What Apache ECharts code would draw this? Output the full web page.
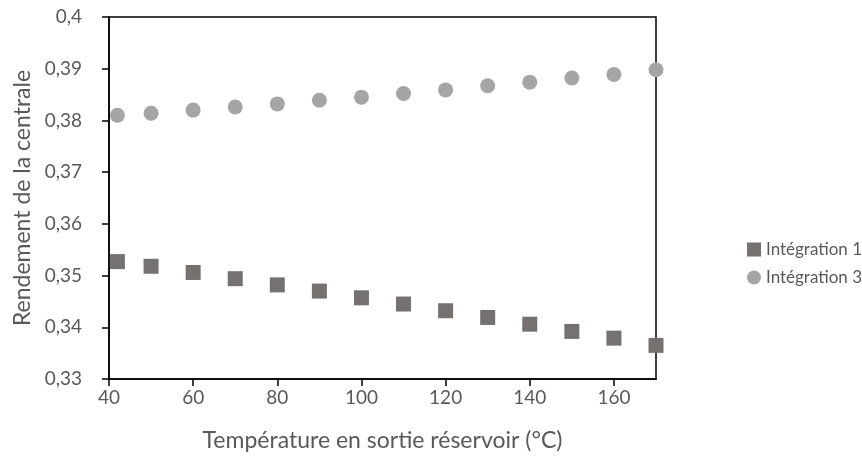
<!DOCTYPE html>
<html>
<head>
    <meta charset="utf-8">
    <script src="https://cdn.jsdelivr.net/npm/echarts@6/dist/echarts.min.js"></script>
</head>
<body style="margin:0">
    <div id="main" style="width:862px;height:463px"></div>

    <script type="text/javascript">
        // données
        var temperatures = [42, 50, 60, 70, 80, 90, 100, 110, 120, 130, 140, 150, 160, 170];
        var integration1 = [0.3527, 0.3518, 0.3506, 0.3494, 0.3482, 0.3470, 0.3457, 0.3445, 0.3432, 0.3419, 0.3406, 0.3392, 0.3379, 0.3365];
        var integration3 = [0.3810, 0.3814, 0.3820, 0.3826, 0.3832, 0.3839, 0.3845, 0.3852, 0.3859, 0.3867, 0.3874, 0.3882, 0.3889, 0.3898];
        var xTicks = [40, 60, 80, 100, 120, 140, 160];

        function pairs(xs, ys) {
            var out = [];
            for (var i = 0; i < xs.length; i++) {
                out.push([xs[i], ys[i]]);
            }
            return out;
        }

        var font = 'Lato';
        var txt = '#595959';

        var myChart = echarts.init(document.getElementById('main'));
        var option = {
            animation: false,
            textStyle: { fontFamily: font },
            grid: {
                left: 109, right: 206, top: 17, bottom: 84,
                show: true, borderColor: '#000', borderWidth: 1.5
            },
            legend: {
                orient: 'vertical',
                left: 747, top: 241,
                itemWidth: 14, itemHeight: 14, itemGap: 11, padding: 0,
                textStyle: { color: txt, fontSize: 17, fontFamily: font, overflow: 'none' },
                data: [
                    { name: 'Intégration 1', icon: 'rect' },
                    { name: 'Intégration 3', icon: 'circle' }
                ]
            },
            xAxis: {
                type: 'value',
                min: 40, max: 170, interval: 20,
                name: 'Température en sortie réservoir (°C)',
                nameLocation: 'middle', nameGap: 50,
                nameTextStyle: { color: txt, fontSize: 23, fontFamily: font },
                splitLine: { show: false },
                axisLine: { lineStyle: { color: '#000', width: 1.5 } },
                axisTick: { length: 7, lineStyle: { color: '#000', width: 1.5 }, customValues: xTicks },
                axisLabel: { color: txt, fontSize: 19, margin: 9, customValues: xTicks }
            },
            yAxis: {
                type: 'value',
                min: 0.33, max: 0.4, interval: 0.01,
                name: 'Rendement de la centrale',
                nameLocation: 'middle', nameGap: 75,
                nameTextStyle: { color: txt, fontSize: 23, fontFamily: font },
                splitLine: { show: false },
                axisLine: { show: true, lineStyle: { color: '#000', width: 1.5 } },
                axisTick: { show: true, length: 7, lineStyle: { color: '#000', width: 1.5 } },
                axisLabel: {
                    color: txt, fontSize: 19, margin: 27,
                    formatter: function (v) { return String(+v.toFixed(2)).replace('.', ','); }
                }
            },
            series: [{
                name: 'Intégration 1',
                type: 'scatter',
                symbol: 'rect',
                symbolSize: 15,
                clip: false,
                itemStyle: { color: '#767171', opacity: 1 },
                data: pairs(temperatures, integration1)
            }, {
                name: 'Intégration 3',
                type: 'scatter',
                symbol: 'circle',
                symbolSize: 15,
                clip: false,
                itemStyle: { color: '#a5a5a5', opacity: 1 },
                data: pairs(temperatures, integration3)
            }]
        };

        myChart.setOption(option);
    </script>
</body>
</html>
